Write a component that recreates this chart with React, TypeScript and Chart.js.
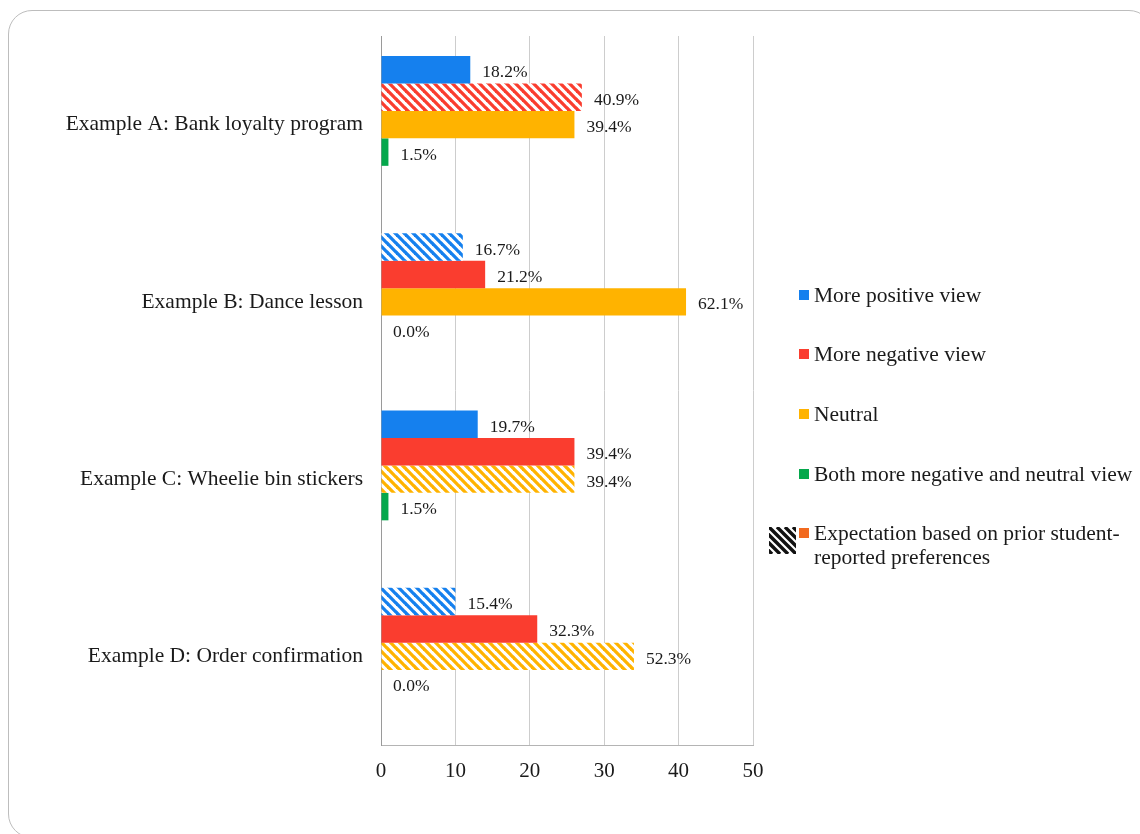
import React, { useEffect, useRef } from "react";
import { Chart, registerables } from "chart.js";

Chart.register(...registerables);

const categories = [
  "Example A: Bank loyalty program",
  "Example B: Dance lesson",
  "Example C: Wheelie bin stickers",
  "Example D: Order confirmation",
];
const seriesNames = [
  "More positive view",
  "More negative view",
  "Neutral",
  "Both more negative and neutral view",
];
const expectationLegend = "Expectation based on prior student-|reported preferences";
const positiveCounts = [12, 11, 13, 10];
const negativeCounts = [27, 14, 26, 21];
const neutralCounts = [26, 41, 26, 34];
const bothCounts = [1, 0, 1, 0];
const expectationCounts = [null, null, null, null];
const positiveLabels = ["18.2%", "16.7%", "19.7%", "15.4%"];
const negativeLabels = ["40.9%", "21.2%", "39.4%", "32.3%"];
const neutralLabels = ["39.4%", "62.1%", "39.4%", "52.3%"];
const bothLabels = ["1.5%", "0.0%", "1.5%", "0.0%"];
const positiveExpected = [false, true, false, true];
const negativeExpected = [true, false, false, false];
const neutralExpected = [false, false, true, true];
const bothExpected = [false, false, false, false];
const xTicks = [0, 10, 20, 30, 40, 50];

const COLORS = ["#1580ee", "#fa3d2f", "#ffb300", "#05a84c"];
const EXPECT_COLOR = "#f26a1f";
const FONT = "'Liberation Serif', 'Times New Roman', serif";

function makeHatch(color: string) {
  const p = 9;
  const c = document.createElement("canvas");
  c.width = p;
  c.height = p;
  const g = c.getContext("2d")!;
  g.fillStyle = "#ffffff";
  g.fillRect(0, 0, p, p);
  g.strokeStyle = color;
  g.lineWidth = 3.3;
  for (const o of [-p, 0, p]) {
    g.beginPath();
    g.moveTo(o - 1, -1);
    g.lineTo(o + p + 1, p + 1);
    g.stroke();
  }
  return g.createPattern(c, "repeat")!;
}

export default function App() {
  const ref = useRef<HTMLCanvasElement>(null);

  useEffect(() => {
    const canvas = ref.current!;
    const counts = [positiveCounts, negativeCounts, neutralCounts, bothCounts];
    const labels = [positiveLabels, negativeLabels, neutralLabels, bothLabels];
    const expected = [positiveExpected, negativeExpected, neutralExpected, bothExpected];

    const datasets: any[] = counts.map((vals, i) => {
      const hatch = makeHatch(COLORS[i]);
      return {
        label: seriesNames[i],
        data: vals,
        backgroundColor: vals.map((_, j) => (expected[i][j] ? hatch : COLORS[i])),
        borderWidth: 0,
        categoryPercentage: 0.775,
        barPercentage: 1.0,
      };
    });
    datasets.push({
      label: expectationLegend.replace("|", ""),
      data: expectationCounts,
      backgroundColor: EXPECT_COLOR,
      borderWidth: 0,
      categoryPercentage: 0.775,
      barPercentage: 1.0,
    });

    const labelPlugin = {
      id: "valueLabels",
      afterDatasetsDraw(chart: any) {
        const ctx = chart.ctx;
        ctx.save();
        ctx.font = `17.5px ${FONT}`;
        ctx.fillStyle = "#1a1a1a";
        ctx.textAlign = "left";
        ctx.textBaseline = "middle";
        labels.forEach((lab, i) => {
          const meta = chart.getDatasetMeta(i);
          meta.data.forEach((bar: any, j: number) => {
            ctx.fillText(lab[j], bar.x + 12, bar.y + 3);
          });
        });
        ctx.restore();
      },
    };

    const legendPlugin = {
      id: "customLegend",
      afterDraw(chart: any) {
        const ctx = chart.ctx;
        ctx.save();
        ctx.font = `21.5px ${FONT}`;
        ctx.fillStyle = "#1a1a1a";
        ctx.textBaseline = "middle";
        ctx.textAlign = "left";
        const x0 = 799;
        const rows = [295, 354, 414, 474];
        seriesNames.forEach((name, i) => {
          ctx.fillStyle = COLORS[i];
          ctx.fillRect(x0, rows[i] - 5, 10, 10);
          ctx.fillStyle = "#1a1a1a";
          ctx.fillText(name, x0 + 15, rows[i] + 1);
        });
        const ey = 533;
        ctx.fillStyle = EXPECT_COLOR;
        ctx.fillRect(x0, ey - 5, 10, 10);
        // hatch icon
        ctx.save();
        ctx.beginPath();
        ctx.rect(769, ey - 6, 27, 27);
        ctx.clip();
        ctx.strokeStyle = "#111";
        ctx.lineWidth = 3.4;
        for (let k = -4; k <= 4; k++) {
          ctx.beginPath();
          ctx.moveTo(769 + k * 8, ey - 6);
          ctx.lineTo(769 + k * 8 + 27, ey + 21);
          ctx.stroke();
        }
        ctx.restore();
        ctx.fillStyle = "#1a1a1a";
        const parts = expectationLegend.split("|");
        ctx.fillText(parts[0], x0 + 15, ey + 1);
        ctx.fillText(parts[1], x0 + 15, ey + 25);
        ctx.restore();
      },
    };

    const chart = new Chart(canvas, {
      type: "bar",
      data: { labels: categories, datasets },
      plugins: [labelPlugin, legendPlugin],
      options: {
        indexAxis: "y",
        animation: false,
        responsive: false,
        maintainAspectRatio: false,
        layout: { padding: { left: 0, right: 387, top: 36, bottom: 0 } },
        plugins: { legend: { display: false }, tooltip: { enabled: false } },
        scales: {
          x: {
            min: xTicks[0],
            max: xTicks[xTicks.length - 1],
            afterFit(scale: any) {
              scale.height = 89;
            },
            afterBuildTicks(scale: any) {
              scale.ticks = xTicks.map((v) => ({ value: v }));
            },
            grid: { color: "#cdcdcd", lineWidth: 1, drawTicks: false },
            border: { display: true, color: "#b4b4b4", width: 1 },
            ticks: {
              padding: 14,
              color: "#1a1a1a",
              font: { family: FONT, size: 21 },
            },
          },
          y: {
            afterFit(scale: any) {
              scale.width = 381;
            },
            grid: { display: true, color: "rgba(0,0,0,0)", drawTicks: false },
            border: { display: true, color: "#9a9a9a", width: 1 },
            ticks: {
              padding: 18,
              color: "#1a1a1a",
              font: { family: FONT, size: 21.5 },
            },
          },
        },
      },
    });
    return () => chart.destroy();
  }, []);

  return (
    <div style={{ position: "fixed", left: 0, top: 0, width: 1140, height: 834, background: "#fff", overflow: "hidden" }}>
      <div
        style={{
          position: "absolute",
          left: 8,
          top: 10,
          width: 1145,
          height: 828,
          border: "1.5px solid #bdbdbd",
          borderRadius: 24,
          boxSizing: "border-box",
        }}
      />
      <canvas ref={ref} width={1140} height={834} style={{ position: "absolute", left: 0, top: 0, width: 1140, height: 834 }} />
    </div>
  );
}
